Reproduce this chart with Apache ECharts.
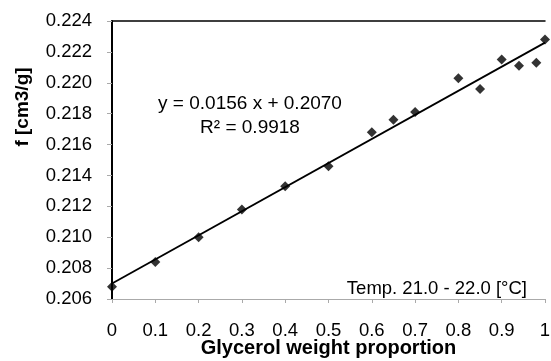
<!DOCTYPE html>
<html>
<head>
<meta charset="utf-8">
<script src="https://cdn.jsdelivr.net/npm/echarts@6/dist/echarts.min.js"></script>
<style>html,body{margin:0;padding:0;background:#fff}#c{width:551px;height:361px}</style>
</head>
<body>
<div id="c"></div>
<script>
var xValues = [0, 0.1, 0.2, 0.3, 0.4, 0.5, 0.6, 0.65, 0.7, 0.8, 0.85, 0.9, 0.94, 0.98, 1.0];
var fValues = [0.2068, 0.2084, 0.2100, 0.2118, 0.2133, 0.2146, 0.2168, 0.2176, 0.2181, 0.2203, 0.2196, 0.2215, 0.2211, 0.2213, 0.2228];
var xTicks = [0, 0.1, 0.2, 0.3, 0.4, 0.5, 0.6, 0.7, 0.8, 0.9, 1];
var slope = 0.0156, intercept = 0.2070;
var trendX = [0, 1];

var chart = echarts.init(document.getElementById('c'));
var font = 'Liberation Sans, Arial, sans-serif';
chart.setOption({
  animation: false,
  grid: {left: 112, right: 6, top: 21, bottom: 62, containLabel: false, outerBoundsMode: 'none'},
  xAxis: [{
    type: 'value', min: 0, max: 1, interval: 0.1,
    name: 'Glycerol weight proportion', nameLocation: 'middle', nameGap: 39, nameMoveOverlap: false,
    nameTextStyle: {fontFamily: font, fontSize: 20, fontWeight: 'bold', color: '#000'},
    axisLine: {lineStyle: {color: '#aaa', width: 1}},
    axisTick: {show: true, length: 4, inside: false, lineStyle: {color: '#aaa'}},
    axisLabel: {fontFamily: font, fontSize: 18.5, color: '#000', margin: 22,
      formatter: function (v) { return String(Math.round(v * 10) / 10); }},
    splitLine: {show: false}
  }, {
    type: 'value', min: 0, max: 1, position: 'top',
    axisLine: {show: true, lineStyle: {color: '#000', width: 1.5}},
    axisTick: {show: false}, axisLabel: {show: false}, splitLine: {show: false}
  }],
  yAxis: [{
    type: 'value', min: 0.206, max: 0.224, interval: 0.002,
    name: 'f [cm3/g]', nameLocation: 'middle', nameGap: 80, nameRotate: 90, nameMoveOverlap: false,
    nameTextStyle: {fontFamily: font, fontSize: 19, fontWeight: 'bold', color: '#000', padding: [0, 0, 0, 106]},
    axisLine: {show: true, lineStyle: {color: '#aaa', width: 1}},
    axisTick: {show: true, length: 5, lineStyle: {color: '#aaa'}},
    axisLabel: {fontFamily: font, fontSize: 18.5, color: '#000', margin: 20,
      formatter: function (v) { return v.toFixed(3); }},
    splitLine: {show: false}
  }, {
    type: 'value', min: 0.206, max: 0.224, position: 'right',
    axisLine: {show: true, lineStyle: {color: '#000', width: 2}},
    axisTick: {show: false}, axisLabel: {show: false}, splitLine: {show: false}
  }],
  series: [{
    type: 'line',
    data: trendX.map(function (x) { return [x, slope * x + intercept]; }),
    symbol: 'none',
    lineStyle: {color: '#000', width: 1.8},
    z: 2
  }, {
    type: 'scatter',
    data: xValues.map(function (x, i) { return [x, fValues[i]]; }),
    symbol: 'diamond', symbolSize: 10,
    itemStyle: {color: '#000'},
    z: 3
  }],
  graphic: [{
    type: 'text', x: 250, y: 104,
    style: {text: 'y = 0.0156 x + 0.2070', font: '19px ' + font, fill: '#000', align: 'center', verticalAlign: 'middle'}
  }, {
    type: 'text', x: 250, y: 128,
    style: {text: 'R² = 0.9918', font: '19px ' + font, fill: '#000', align: 'center', verticalAlign: 'middle'}
  }, {
    type: 'text', x: 527, y: 289,
    style: {text: 'Temp. 21.0 - 22.0 [°C]', font: '18.5px ' + font, fill: '#000', align: 'right', verticalAlign: 'middle'}
  }]
});
</script>
</body>
</html>
